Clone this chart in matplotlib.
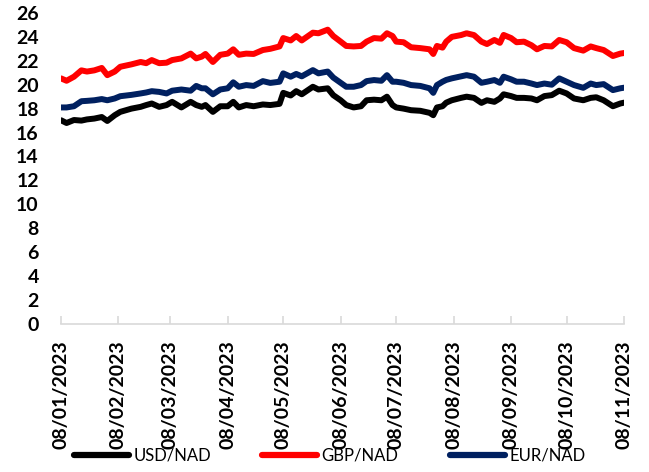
import matplotlib
matplotlib.use("Agg")
import matplotlib.pyplot as plt
import pandas as pd

dates = ["2023-01-08","2023-01-11","2023-01-15","2023-01-19","2023-01-22","2023-01-26","2023-01-30",
         "2023-02-02","2023-02-06","2023-02-09","2023-02-15","2023-02-20","2023-02-23","2023-02-26",
         "2023-03-02","2023-03-06","2023-03-09","2023-03-14","2023-03-19","2023-03-22","2023-03-25",
         "2023-03-27","2023-03-31","2023-04-04","2023-04-08","2023-04-11","2023-04-14","2023-04-18",
         "2023-04-22","2023-04-27","2023-05-01","2023-05-06","2023-05-08","2023-05-12","2023-05-15",
         "2023-05-18","2023-05-24","2023-05-27","2023-06-01","2023-06-04","2023-06-08","2023-06-11",
         "2023-06-15","2023-06-19","2023-06-22","2023-06-26","2023-06-30","2023-07-03","2023-07-06",
         "2023-07-08","2023-07-12","2023-07-16","2023-07-21","2023-07-26","2023-07-28","2023-07-30",
         "2023-08-02","2023-08-04","2023-08-07","2023-08-12","2023-08-15","2023-08-19","2023-08-23",
         "2023-08-26","2023-08-30","2023-09-02","2023-09-04","2023-09-08","2023-09-11","2023-09-15",
         "2023-09-19","2023-09-22","2023-09-26","2023-09-30","2023-10-04","2023-10-08","2023-10-12",
         "2023-10-17","2023-10-21","2023-10-24","2023-10-28","2023-11-02","2023-11-06","2023-11-08"]

usd_nad = [17.03,16.80,17.05,17.00,17.10,17.17,17.30,16.97,17.45,17.73,18.00,18.15,18.30,18.43,
           18.15,18.30,18.57,18.10,18.57,18.30,18.15,18.30,17.73,18.20,18.20,18.57,18.10,18.30,
           18.20,18.35,18.30,18.40,19.32,19.10,19.46,19.20,19.83,19.60,19.70,19.13,18.70,18.30,
           18.10,18.20,18.70,18.75,18.70,19.00,18.30,18.10,18.00,17.87,17.82,17.65,17.45,18.10,
           18.20,18.50,18.70,18.90,19.00,18.90,18.48,18.70,18.57,18.85,19.20,19.05,18.90,18.90,
           18.85,18.70,19.05,19.13,19.50,19.27,18.85,18.70,18.90,18.95,18.70,18.20,18.43,18.50]

gbp_nad = [20.53,20.33,20.67,21.20,21.10,21.20,21.40,20.80,21.10,21.50,21.70,21.90,21.80,22.06,
           21.80,21.84,22.06,22.20,22.60,22.20,22.35,22.57,21.90,22.50,22.60,22.96,22.50,22.60,
           22.57,22.90,23.00,23.20,23.90,23.70,24.07,23.70,24.35,24.30,24.60,24.07,23.60,23.24,
           23.20,23.24,23.60,23.90,23.85,24.30,24.07,23.60,23.55,23.13,23.06,22.96,22.57,23.24,
           23.10,23.60,24.00,24.15,24.30,24.15,23.60,23.40,23.74,23.50,24.16,23.90,23.55,23.60,
           23.30,22.96,23.24,23.20,23.74,23.55,23.06,22.85,23.20,23.06,22.90,22.40,22.60,22.65]

eur_nad = [18.10,18.10,18.20,18.62,18.65,18.70,18.80,18.70,18.85,19.04,19.15,19.27,19.35,19.46,
           19.40,19.27,19.50,19.60,19.50,19.90,19.70,19.70,19.20,19.60,19.70,20.20,19.83,19.97,
           19.90,20.30,20.15,20.25,20.95,20.67,20.90,20.70,21.22,20.95,21.10,20.60,20.16,19.83,
           19.83,19.97,20.30,20.39,20.33,20.80,20.25,20.25,20.16,19.97,19.90,19.70,19.32,19.97,
           20.25,20.40,20.53,20.70,20.80,20.67,20.16,20.25,20.39,20.16,20.67,20.45,20.25,20.25,
           20.10,19.97,20.10,20.00,20.53,20.25,19.97,19.74,20.10,19.97,20.05,19.55,19.70,19.75]

series_names = ["USD/NAD", "GBP/NAD", "EUR/NAD"]
series_colors = ["#000000", "#ff0000", "#002060"]
tick_dates = ["2023-01-08","2023-02-08","2023-03-08","2023-04-08","2023-05-08","2023-06-08",
              "2023-07-08","2023-08-08","2023-09-08","2023-10-08","2023-11-08"]
y_ticks = list(range(0, 27, 2))

font_main = ["Lato", "DejaVu Sans"]

x = pd.to_datetime(dates)
fig = plt.figure(figsize=(6.49, 4.72), dpi=100)
ax = fig.add_axes([0.094, 0.3136, 0.8675, 0.659])

for vals, name, col in zip([usd_nad, gbp_nad, eur_nad], series_names, series_colors):
    ax.plot(x, vals, color=col, lw=4.3, label=name, solid_joinstyle="round", solid_capstyle="round")

tdates = pd.to_datetime(tick_dates)
ax.set_xlim(tdates[0], tdates[-1])
ax.set_ylim(0, 26)
ax.set_xticks(tdates)
ax.set_xticklabels([d.strftime("%d/%m/%Y") for d in tdates], rotation=90,
                   fontsize=14, fontweight="bold", family=font_main)
ax.set_yticks(y_ticks)
ax.set_yticklabels([str(v) for v in y_ticks], fontsize=14, fontweight="bold", family=font_main)

for s in ["left", "right", "top"]:
    ax.spines[s].set_visible(False)
ax.spines["bottom"].set_color("#d9d9d9")
ax.spines["bottom"].set_linewidth(1.2)
ax.tick_params(axis="x", direction="in", length=5.5, color="#d9d9d9", width=1.2, pad=12)
ax.tick_params(axis="y", length=0, pad=16)

leg = fig.legend(loc="center", bbox_to_anchor=(0.508, 0.035), ncol=3, frameon=False,
                 handlelength=3.3, columnspacing=3.1, handletextpad=0.25,
                 prop={"family": font_main, "size": 12})
for h in leg.get_lines():
    h.set_linewidth(4.5)

fig.savefig("out.png", dpi=100)
